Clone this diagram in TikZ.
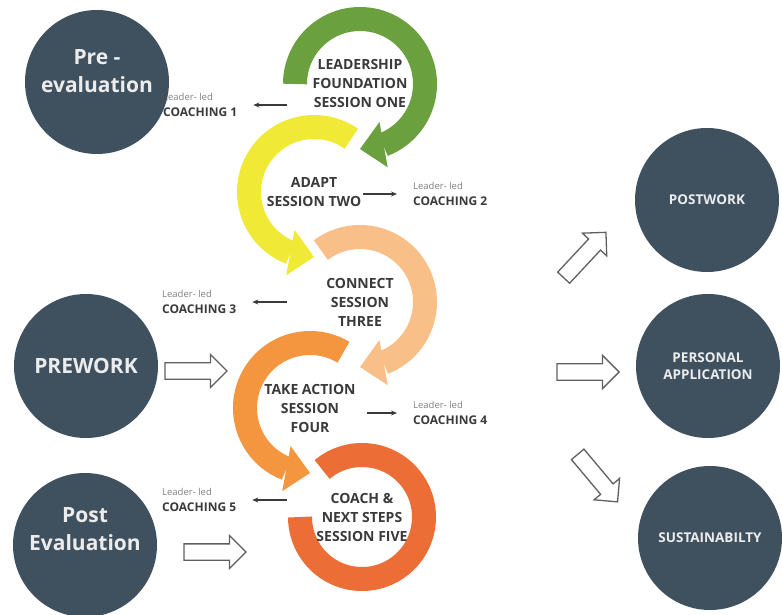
\documentclass[tikz,border=0pt]{standalone}
\usepackage{fontspec}
\setmainfont{Open Sans}
\usetikzlibrary{calc,arrows.meta,bending,shapes.arrows}

\definecolor{StepSlate}{RGB}{63,81,95}
\definecolor{StepGreen}{RGB}{106,160,62}
\definecolor{StepYellow}{RGB}{240,234,54}
\definecolor{StepPeach}{RGB}{248,192,136}
\definecolor{StepOrange}{RGB}{244,150,64}
\definecolor{StepRed}{RGB}{236,110,54}
\definecolor{StepInk}{RGB}{58,58,58}
\definecolor{StepLight}{RGB}{236,236,236}

\tikzset{
  phase/.style={circle, fill=StepSlate, minimum size=144pt, inner sep=0pt},
  phasetext/.style={text=StepLight, align=center, font=\fontsize{21}{28}\selectfont\bfseries},
  outcome/.style={phase, text=StepLight, align=center, font=\fontsize{13.5}{17}\selectfont\bfseries},
  ring/.style={line width=24pt},
  ringtip/.style={-{Triangle[length=24pt,width=46pt,line width=0pt]}},
  session/.style={text=StepInk, align=center, font=\fontsize{14}{19}\selectfont\bfseries},
  coach/.style={align=left, inner xsep=16pt, text=StepInk, font=\fontsize{12}{15.5}\selectfont\bfseries},
  lead/.style={line width=1.2pt, StepInk, -{Stealth[length=6pt,width=5pt]}},
  push/.style={single arrow, draw=gray!75!black, line width=1.3pt, fill=white,
    minimum height=62pt, inner xsep=0pt, inner ysep=7.5pt,
    single arrow head extend=8.5pt, single arrow tip angle=90},
}
\newcommand{\ledline}{{\fontsize{9.5}{15.5}\selectfont\mdseries\color{gray}Leader- led}}

\begin{document}
\begin{tikzpicture}[x=1pt,y=1pt]
  \fill[white] (0,0) rectangle (782,614);
  \useasboundingbox (0,0) rectangle (782,614);

  % Coaching notes (the circles sit on top of them)
  \node[coach, anchor=west] (c1) at (147,509) {\ledline\\COACHING 1};
  \node[coach, anchor=west] (c2) at (397,420) {\ledline\\COACHING 2};
  \node[coach, anchor=west] (c3) at (146,312) {\ledline\\COACHING 3};
  \node[coach, anchor=west] (c4) at (397,201) {\ledline\\COACHING 4};
  \node[coach, anchor=west] (c5) at (146,114) {\ledline\\COACHING 5};

  % Left phases
  \node[phase] (pre) at (97,532) {};
  \node[phasetext] (preT) at ([yshift=11]pre.center) {Pre -\\evaluation};
  \node[phase, phasetext] (prework) at (86,248) {PREWORK};
  \node[phase] (post) at (85,69) {};
  \node[phasetext] (postT) at ([yshift=16]post.center) {Post\\Evaluation};

  % Session rings
  \coordinate (g1) at (360,530);
  \coordinate (g2) at (314,422);
  \coordinate (g3) at (360,312);
  \coordinate (g4) at (310,206);
  \coordinate (g5) at (362,97);
  \draw[ring, StepGreen, ringtip] ($(g1)+(180:65)$) arc[start angle=180, end angle=-90, radius=65];
  \draw[ring, StepYellow, ringtip] ($(g2)+(55:65)$) arc[start angle=55, end angle=270, radius=65];
  \draw[ring, StepPeach, ringtip] ($(g3)+(127:65)$) arc[start angle=127, end angle=-90, radius=65];
  \draw[ring, StepOrange, ringtip] ($(g4)+(59:65)$) arc[start angle=59, end angle=270, radius=65];
  \draw[ring, StepRed] ($(g5)+(130:62)$) arc[start angle=130, end angle=-180, radius=62];

  \node[session] (s1) at (g1) {LEADERSHIP\\FOUNDATION\\SESSION ONE};
  \node[session] (s2) at (g2) {ADAPT\\SESSION TWO};
  \node[session] (s3) at (g3) {CONNECT\\SESSION\\THREE};
  \node[session] (s4) at (g4) {TAKE ACTION\\SESSION\\FOUR};
  \node[session] (s5) at (g5) {COACH \&\\NEXT STEPS\\SESSION FIVE};

  % Pointers to the coaching notes
  \coordinate (l1) at (287,509);
  \coordinate (l2) at (363,420);
  \coordinate (l3) at (287,312);
  \coordinate (l4) at (367,201);
  \coordinate (l5) at (287,114);
  \foreach \i in {1,...,5}
    \draw[lead] (l\i) -- (c\i);

  % Block arrows
  \node[push] (pwA) at (192,243) {};
  \node[push] (peA) at (211,62) {};
  \node[push, rotate=47] (upA) at (582,356) {};
  \node[push] (midA) at (584,242) {};
  \node[push, rotate=-50] (dnA) at (595,139) {};

  % Right phases
  \node[outcome] (postwork) at (707,414) {POSTWORK};
  \node[outcome] (personal) at (708,248) {PERSONAL\\APPLICATION};
  \node[outcome] (sustain) at (710,76) {SUSTAINABILTY};
\end{tikzpicture}
\end{document}
